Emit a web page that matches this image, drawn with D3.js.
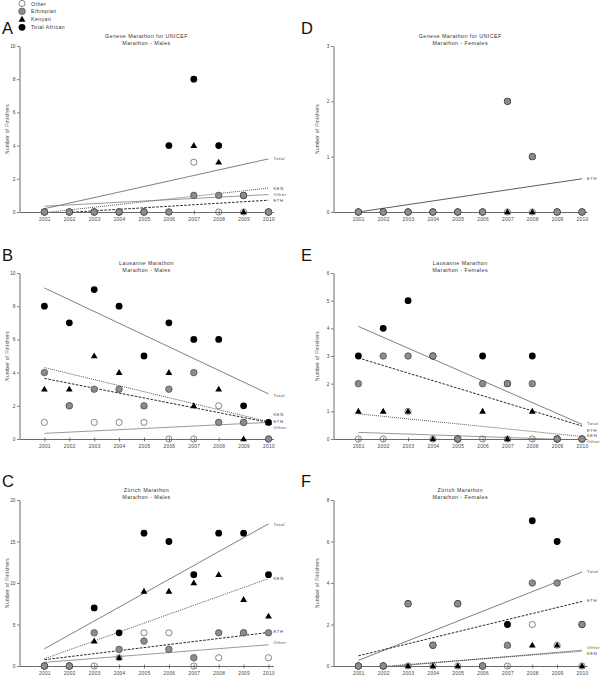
<!DOCTYPE html>
<html><head><meta charset="utf-8">
<script src="https://cdn.jsdelivr.net/npm/d3@7"></script>
<style>
body{margin:0;background:#fff}
svg{display:block}
text{font-family:"Liberation Sans",Arial,Helvetica,sans-serif}
</style></head>
<body><svg id="chart" width="600" height="675"></svg>
<script>
// ---------- DATA ----------
const years = [2001,2002,2003,2004,2005,2006,2007,2008,2009,2010];
const seriesNames = ["Other","Ethiopian","Kenyan","Total African"];
const panelIds = ["A","B","C","D","E","F"];
const titles = ["Geneve  Marathon for UNICEF","Lausanne Marathon","Zürich Marathon",
                "Geneve  Marathon for UNICEF","Lausanne Marathon","Zürich Marathon"];
const subtitles = ["Marathon - Males","Marathon - Males","Marathon - Males",
                   "Marathon - Females","Marathon - Females","Marathon - Females"];
const yMaxes = [10,10,20,3,6,8];
const yTicksA = [0,2,4,6,8,10];
const yTicksB = [0,2,4,6,8,10];
const yTicksC = [0,5,10,15,20];
const yTicksD = [0,1,2,3];
const yTicksE = [0,1,2,3,4,5,6];
const yTicksF = [0,2,4,6,8];
const yAxisTitle = "Number of Finishers";

// Panel A: Geneva males
const otherA = [0,0,0,0,0,0,3,0,0,0];
const ethA   = [0,0,0,0,0,0,1,1,1,0];
const kenA   = [0,0,0,0,0,0,4,3,0,0];
const totA   = [0,0,0,0,0,4,8,4,1,0];
// Panel B: Lausanne males
const otherB = [1,2,1,1,1,0,0,2,1,0];
const ethB   = [4,2,3,3,2,3,4,1,1,0];
const kenB   = [3,3,5,4,2,4,2,3,0,1];
const totB   = [8,7,9,8,5,7,6,6,2,1];
// Panel C: Zurich males
const otherC = [0,0,0,1,4,4,0,1,4,1];
const ethC   = [0,0,4,2,3,2,1,4,4,4];
const kenC   = [0,0,3,1,9,9,10,11,8,6];
const totC   = [0,0,7,4,16,15,11,16,16,11];
// Panel D: Geneva females
const otherD = [0,0,0,0,0,0,0,0,0,0];
const ethD   = [0,0,0,0,0,0,2,1,0,0];
const kenD   = [0,0,0,0,0,0,0,0,0,0];
const totD   = [0,0,0,0,0,0,2,1,0,0];
// Panel E: Lausanne females
const otherE = [0,0,1,0,0,0,0,0,0,0];
const ethE   = [2,3,3,3,0,2,2,2,0,0];
const kenE   = [1,1,1,0,0,1,0,1,0,0];
const totE   = [3,4,5,3,0,3,2,3,0,0];
// Panel F: Zurich females
const otherF = [0,0,0,0,0,0,0,2,1,0];
const ethF   = [0,0,3,1,3,0,1,4,4,2];
const kenF   = [0,0,0,0,0,0,1,1,1,0];
const totF   = [0,0,3,1,3,0,2,7,6,2];

// Trend lines (value at 2001, value at 2010) and label value
const trendNamesA = ["Total","KEN","Other","ETH"];
const trendStartA = [0.2,-0.04,0.35,-0.11];
const trendEndA   = [3.2,1.44,1.05,0.71];
const trendLabA   = [3.2,1.42,1.08,0.72];
const trendNamesB = ["Total","KEN","ETH","Other"];
const trendStartB = [9.1,4.3,3.65,0.34];
const trendEndB   = [2.72,1.04,1.0,1.0];
const trendLabB   = [2.65,1.45,1.08,0.72];
const trendNamesC = ["Total","KEN","ETH","Other"];
const trendStartC = [2.07,0.87,0.76,0.44];
const trendEndC   = [17.13,10.53,4.04,2.56];
const trendLabC   = [17.1,10.6,4.1,2.8];
const trendNamesD = ["ETH"];
const trendStartD = [0];
const trendEndD   = [0.6];
const trendLabD   = [0.6];
const trendNamesE = ["Total","ETH","KEN","Other"];
const trendStartE = [4.07,2.93,0.91,0.24];
const trendEndE   = [0.53,0.47,0.09,-0.04];
const trendLabE   = [0.55,0.31,0.11,-0.09];
const trendNamesF = ["Total","ETH","Other","KEN"];
const trendStartF = [0.27,0.49,-0.16,-0.11];
const trendEndF   = [4.53,3.11,0.76,0.71];
const trendLabF   = [4.56,3.15,0.89,0.6];

// ---------- BUILD ----------
const panelData = {
  A:{other:otherA,eth:ethA,ken:kenA,tot:totA,ticks:yTicksA,tn:trendNamesA,ts:trendStartA,te:trendEndA,tl:trendLabA},
  B:{other:otherB,eth:ethB,ken:kenB,tot:totB,ticks:yTicksB,tn:trendNamesB,ts:trendStartB,te:trendEndB,tl:trendLabB},
  C:{other:otherC,eth:ethC,ken:kenC,tot:totC,ticks:yTicksC,tn:trendNamesC,ts:trendStartC,te:trendEndC,tl:trendLabC},
  D:{other:otherD,eth:ethD,ken:kenD,tot:totD,ticks:yTicksD,tn:trendNamesD,ts:trendStartD,te:trendEndD,tl:trendLabD},
  E:{other:otherE,eth:ethE,ken:kenE,tot:totE,ticks:yTicksE,tn:trendNamesE,ts:trendStartE,te:trendEndE,tl:trendLabE},
  F:{other:otherF,eth:ethF,ken:kenF,tot:totF,ticks:yTicksF,tn:trendNamesF,ts:trendStartF,te:trendEndF,tl:trendLabF}
};

// Layout (pixels)
const colX = {left:{x0:19.5,step:24.9,ylab:7.5,letter:2},right:{x0:333.5,step:24.85,ylab:317,letter:301}};
const rowY = [{y0:212,y1:46,letterY:34},{y0:439,y1:273,letterY:261},{y0:666,y1:500,letterY:487}];
const layout = {A:["left",0],B:["left",1],C:["left",2],D:["right",0],E:["right",1],F:["right",2]};

const svg = d3.select("#chart");
const AX = "#444";

function lineStyle(name, pid){
  if(name==="Total") return {stroke:"#555",w:0.75,dash:null};
  if(name==="Other") return {stroke:"#777",w:0.75,dash:null};
  if(name==="KEN") return {stroke:"#333",w:0.9,dash:"0.9,1.1"};
  if(name==="ETH") return pid==="D" ? {stroke:"#333",w:0.8,dash:null} : {stroke:"#111",w:0.9,dash:"2.6,1.4"};
  return {stroke:"#555",w:0.75,dash:null};
}

function drawMarker(g, type, cx, cy){
  if(type==="tri"){
    g.append("path").attr("d", d3.symbol().type(d3.symbolTriangle).size(20)())
      .attr("transform",`translate(${cx},${cy+0.4})`).attr("fill","#000");
  } else if(type==="eth"){
    g.append("circle").attr("cx",cx).attr("cy",cy).attr("r",3.3)
      .attr("fill","#8c8c8c").attr("stroke","#3a3a3a").attr("stroke-width",0.6);
  } else if(type==="tot"){
    g.append("circle").attr("cx",cx).attr("cy",cy).attr("r",3.4).attr("fill","#000");
  } else {
    g.append("circle").attr("cx",cx).attr("cy",cy).attr("r",3.1)
      .attr("fill","none").attr("stroke","#555").attr("stroke-width",0.7);
  }
}

panelIds.forEach((pid,i)=>{
  const d = panelData[pid];
  const [colKey,row] = layout[pid];
  const C = colX[colKey], R = rowY[row];
  const x = d3.scaleLinear().domain([2000,2010.2]).range([C.x0, C.x0 + 10.2*C.step]);
  const y = d3.scaleLinear().domain([0,yMaxes[i]]).range([R.y0,R.y1]);
  const g = svg.append("g");

  // panel letter
  g.append("text").attr("x",C.letter).attr("y",R.letterY).text(pid)
    .attr("font-size",16.5).attr("fill","#111");

  // titles
  const cxT = (C.x0 + x(2010.2))/2;
  g.append("text").attr("x",cxT).attr("y",R.y1-8).attr("text-anchor","middle")
    .attr("font-size",5.3).attr("letter-spacing",0.45).attr("fill","#333").text(titles[i]);
  g.append("text").attr("x",cxT).attr("y",R.y1-0.8).attr("text-anchor","middle")
    .attr("font-size",5.3).attr("letter-spacing",0.45).attr("fill","#333").text(subtitles[i]);

  // y axis title
  g.append("text").attr("transform",`translate(${C.ylab},${(R.y0+R.y1)/2}) rotate(-90)`)
    .attr("text-anchor","middle").attr("dominant-baseline","central")
    .attr("font-size",4.8).attr("letter-spacing",0.35).attr("fill","#444").text(yAxisTitle);

  // y axis
  const ya = g.append("g").attr("transform",`translate(${C.x0},0)`)
    .call(d3.axisLeft(y).tickValues(d.ticks).tickSize(2.5).tickSizeOuter(0).tickPadding(1.5).tickFormat(d3.format("d")));
  ya.select(".domain").attr("stroke",AX).attr("stroke-width",0.8);
  ya.selectAll(".tick line").attr("stroke",AX).attr("stroke-width",0.7);
  ya.selectAll(".tick text").attr("font-size",4.8).attr("fill","#444").attr("font-family","Liberation Sans, Arial, sans-serif");

  // x axis
  const xa = g.append("g").attr("transform",`translate(0,${R.y0})`)
    .call(d3.axisBottom(x).tickValues(years).tickSize(2.5).tickSizeOuter(0).tickPadding(3).tickFormat(d3.format("d")));
  xa.select(".domain").attr("stroke",AX).attr("stroke-width",0.8);
  xa.selectAll(".tick line").attr("stroke",AX).attr("stroke-width",0.7).attr("y1",-1.5);
  xa.selectAll(".tick text").attr("font-size",4.8).attr("letter-spacing",0.3).attr("fill","#444").attr("font-family","Liberation Sans, Arial, sans-serif");

  // clip for trend lines (not below y=0)
  const clipId = "clip"+pid;
  svg.append("clipPath").attr("id",clipId).append("rect")
    .attr("x",C.x0).attr("y",R.y1-20).attr("width",x(2010.2)-C.x0+2).attr("height",R.y0-(R.y1-20));

  // trend lines
  const tg = g.append("g").attr("clip-path",`url(#${clipId})`);
  d.tn.forEach((name,k)=>{
    const st = lineStyle(name,pid);
    tg.append("line").attr("x1",x(2001)).attr("y1",y(d.ts[k])).attr("x2",x(2010)).attr("y2",y(d.te[k]))
      .attr("stroke",st.stroke).attr("stroke-width",st.w).attr("stroke-dasharray",st.dash);
    g.append("text").attr("x",x(2010)+5).attr("y",y(d.tl[k])).attr("dominant-baseline","central")
      .attr("font-size",4.2).attr("letter-spacing",0.55).attr("fill","#444").text(name);
  });

  // markers: draw order Total, Kenyan, Other, Ethiopian
  const mg = g.append("g");
  years.forEach((yr,j)=>drawMarker(mg,"tot",x(yr),y(d.tot[j])));
  years.forEach((yr,j)=>drawMarker(mg,"tri",x(yr),y(d.ken[j])));
  years.forEach((yr,j)=>drawMarker(mg,"other",x(yr),y(d.other[j])));
  years.forEach((yr,j)=>drawMarker(mg,"eth",x(yr),y(d.eth[j])));
});

// legend
const legY = [3.5,11.3,19.3,27.3];
const legTypes = ["other","eth","tri","tot"];
const lg = svg.append("g");
seriesNames.forEach((n,k)=>{
  drawMarker(lg, legTypes[k], 22, legY[k]);
  lg.append("text").attr("x",31).attr("y",legY[k]).attr("dominant-baseline","central")
    .attr("font-size",5.2).attr("letter-spacing",0.45).attr("fill","#333").text(n);
});
</script>
</body></html>
